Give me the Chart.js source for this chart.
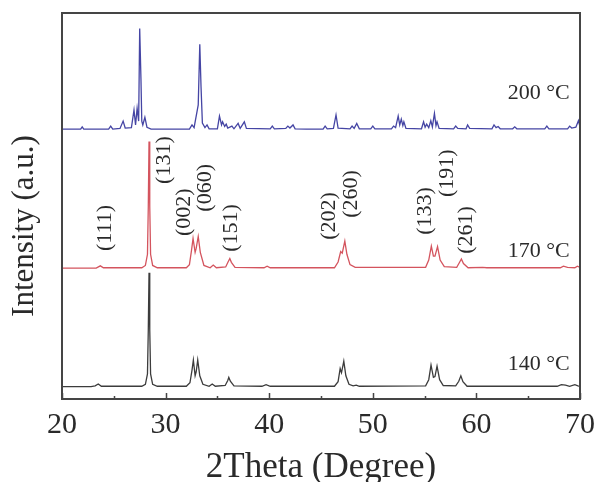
<!DOCTYPE html>
<html>
<head>
<meta charset="utf-8">
<script src="https://cdn.jsdelivr.net/npm/chart.js@4.4.1/dist/chart.umd.min.js"></script>
<style>
  html, body { margin: 0; padding: 0; background: #fff; }
</style>
</head>
<body>
<canvas id="xrd" width="616" height="482"></canvas>
<script>
// 2theta / intensity pairs (stacked, arbitrary units)
var theta140 = [20, 22.8, 23.2, 23.5, 23.8, 27.7, 28.05, 28.25, 28.33, 28.4, 28.47, 28.55, 28.75, 29.2,
  32.0, 32.35, 32.55, 32.68, 32.85, 32.95, 33.1, 33.3, 33.6, 34.2, 34.5, 34.8, 35.75, 36.0, 36.1, 36.25, 36.6,
  39.3, 39.7, 40.1, 46.3, 46.65, 46.85, 46.98, 47.2, 47.4, 47.7, 48.1, 48.4, 48.7,
  55.1, 55.4, 55.62, 55.85, 56.0, 56.2, 56.45, 56.8, 58.0, 58.3, 58.5, 58.7, 59.1,
  67.8, 68.2, 68.6, 69.0, 69.5, 69.8, 70];
var int140 = [3.2, 3.2, 3.4, 3.9, 3.3, 3.3, 3.8, 6.5, 18, 32.7, 18, 6.5, 3.8, 3.3,
  3.3, 4.2, 7.5, 10.1, 6.0, 7.0, 10.1, 6.0, 3.8, 3.3, 3.9, 3.3, 3.5, 4.8, 5.6, 4.6, 3.4,
  3.3, 3.7, 3.3, 3.3, 4.5, 7.9, 6.8, 9.8, 6.0, 3.8, 3.4, 3.6, 3.3,
  3.4, 5.0, 8.8, 5.6, 5.8, 8.5, 5.0, 3.5, 3.4, 4.6, 6.0, 4.5, 3.3,
  3.3, 3.7, 3.6, 3.3, 3.7, 3.4, 3.3];

var theta170 = [20, 23.3, 23.7, 24.0, 27.7, 28.05, 28.25, 28.33, 28.4, 28.47, 28.55, 28.75, 29.2,
  32.0, 32.3, 32.5, 32.65, 32.85, 32.95, 33.15, 33.35, 33.7, 34.3, 34.6, 34.9, 35.8, 36.05, 36.2, 36.35, 36.7,
  39.5, 39.8, 40.1, 46.3, 46.65, 46.9, 47.05, 47.3, 47.5, 47.8, 48.3,
  55.1, 55.4, 55.65, 55.85, 56.0, 56.25, 56.5, 56.9, 58.1, 58.35, 58.55, 58.75, 59.2,
  60.6, 61.0, 68.1, 68.4, 68.8, 69.5, 69.75, 70];
var int170 = [33.9, 33.9, 34.5, 34.0, 34.0, 34.6, 37.5, 50, 66.7, 50, 37.5, 34.6, 34.0,
  34.0, 34.8, 38.5, 41.6, 38.0, 39.0, 42.1, 38.0, 34.6, 34.0, 34.7, 34.0, 34.2, 35.6, 36.4, 35.4, 34.1,
  34.0, 34.4, 34.0, 34.0, 35.5, 38.2, 37.8, 40.9, 37.5, 34.8, 34.1,
  34.1, 36.0, 39.6, 37.0, 37.0, 39.5, 36.0, 34.3, 34.1, 35.3, 36.3, 35.1, 34.0,
  34.1, 34.0, 34.0, 34.4, 34.1, 34.0, 34.4, 34.1];

var theta200 = [20, 21.8, 21.95, 22.1, 24.5, 24.7, 24.9, 25.6, 25.9, 26.1, 26.7, 26.95, 27.1, 27.25, 27.4,
  27.5, 27.62, 27.7, 27.8, 28.0, 28.2, 28.6, 32.3, 32.55, 32.75, 33.15, 33.3, 33.42, 33.55, 33.8, 34.0, 34.2,
  35.0, 35.2, 35.4, 35.5, 35.7, 35.85, 36.0, 36.4, 36.6, 37.0, 37.2, 37.6, 37.8,
  40.1, 40.3, 40.5, 41.6, 41.8, 42.0, 42.3, 42.5, 43.6, 45.2, 45.4, 45.6, 46.2, 46.45, 46.65,
  47.8, 48.0, 48.2, 48.45, 48.7, 49.8, 50.0, 50.2, 51.8, 52.0, 52.2, 52.45, 52.6, 52.75, 52.9, 53.0, 53.2,
  54.7, 54.9, 55.05, 55.2, 55.4, 55.6, 55.75, 55.95, 56.1, 56.2, 56.4, 57.8, 58.0, 58.2,
  59.0, 59.15, 59.35, 61.5, 61.7, 61.9, 62.1, 62.3, 63.5, 63.7, 63.9, 66.6, 66.8, 67.0,
  68.8, 69.0, 69.2, 69.6, 69.85, 70];
var int200 = [69.9, 69.9, 70.5, 69.9, 69.9, 70.7, 69.9, 70.1, 72.0, 70.2, 70.3, 74.9, 71.0, 75.3, 72.0,
  96.0, 83.1, 72.0, 71.0, 73.0, 70.4, 69.9, 69.9, 71.0, 70.3, 76.2, 91.9, 80.9, 71.5, 70.3, 71.0, 70.0,
  70.0, 73.3, 71.0, 71.8, 70.6, 71.2, 70.2, 70.7, 70.0, 71.4, 70.1, 71.8, 70.1,
  70.0, 70.7, 70.0, 70.1, 70.7, 70.2, 71.0, 70.0, 69.9, 69.9, 70.7, 70.0, 70.1, 73.6, 70.2,
  70.0, 70.7, 70.1, 71.4, 70.0, 70.0, 70.7, 70.0, 70.0, 70.7, 70.3, 73.3, 71.0, 72.5, 70.8, 71.8, 70.1,
  70.0, 71.8, 70.4, 71.2, 70.3, 72.1, 70.5, 74.0, 70.8, 71.8, 70.1, 70.0, 70.7, 70.1,
  70.0, 71.0, 70.1, 70.0, 71.0, 70.3, 70.6, 70.0, 70.0, 70.5, 70.0, 70.0, 70.7, 70.0,
  70.0, 70.7, 70.2, 70.4, 72.1, 70.5];

// sample labels (right aligned at 2theta = 69)
var tempNames = ['200 °C', '170 °C', '140 °C'];
var tempY = [77.7, 36.8, 7.5];

// Miller indices over the 170 °C pattern (centre of the rotated text)
var hklNames = ['(111)', '(131)', '(002)', '(060)', '(151)', '(202)', '(260)', '(133)', '(191)', '(261)'];
var hklX = [24.15, 29.85, 31.8, 33.8, 36.3, 45.8, 47.9, 55.1, 57.2, 59.0];
var hklY = [44.3, 61.9, 48.4, 54.7, 44.3, 47.4, 53.1, 48.7, 58.5, 43.8];

var xTicks = [20, 30, 40, 50, 60, 70];

function toPoints(xs, ys) {
  var pts = [];
  for (var i = 0; i < xs.length; i++) pts.push({ x: xs[i], y: ys[i] });
  return pts;
}

var serif = '"Liberation Serif", "Times New Roman", serif';

// frame, inward ticks, text labels
var decorations = {
  id: 'decorations',
  afterDraw: function (chart) {
    var ctx = chart.ctx, a = chart.chartArea;
    var x = chart.scales.x, y = chart.scales.y;
    ctx.save();
    ctx.strokeStyle = '#454545';
    ctx.lineWidth = 2;
    ctx.strokeRect(a.left, a.top, a.right - a.left, a.bottom - a.top);

    ctx.lineWidth = 1.5;
    ctx.beginPath();
    x.ticks.forEach(function (t) {
      var px = Math.round(x.getPixelForValue(t.value)) + 0.5;
      var len = xTicks.indexOf(t.value) >= 0 ? 6 : 3;
      ctx.moveTo(px, a.bottom);
      ctx.lineTo(px, a.bottom - len);
    });
    ctx.stroke();

    ctx.fillStyle = '#2a2a2a';
    ctx.font = '22px ' + serif;
    ctx.textAlign = 'right';
    ctx.textBaseline = 'alphabetic';
    tempNames.forEach(function (s, i) {
      ctx.fillText(s, x.getPixelForValue(69), y.getPixelForValue(tempY[i]));
    });

    ctx.textAlign = 'center';
    ctx.textBaseline = 'middle';
    hklNames.forEach(function (s, i) {
      ctx.save();
      ctx.translate(x.getPixelForValue(hklX[i]), y.getPixelForValue(hklY[i]));
      ctx.rotate(-Math.PI / 2);
      ctx.fillText(s, 0, 0);
      ctx.restore();
    });

    // y axis title
    ctx.font = '31px ' + serif;
    ctx.save();
    ctx.translate(25, 226);
    ctx.rotate(-Math.PI / 2);
    ctx.fillText('Intensity (a.u.)', 0, 0);
    ctx.restore();
    ctx.restore();
  }
};

var ctx = document.getElementById('xrd').getContext('2d');
var chart = new Chart(ctx, {
  type: 'line',
  data: {
    datasets: [
      { label: '200 °C', data: toPoints(theta200, int200), borderColor: '#4545a4' },
      { label: '170 °C', data: toPoints(theta170, int170), borderColor: '#d4545e' },
      { label: '140 °C', data: toPoints(theta140, int140), borderColor: '#3c3c3c' }
    ]
  },
  options: {
    responsive: false,
    animation: false,
    layout: { padding: { top: 13, right: 36, left: 0, bottom: 0 } },
    elements: {
      point: { radius: 0 },
      line: { borderWidth: 1.3, tension: 0, fill: false }
    },
    plugins: { legend: { display: false }, tooltip: { enabled: false } },
    scales: {
      x: {
        type: 'linear',
        min: 20,
        max: 70,
        afterFit: function (s) { s.height = 83; },
        grid: { display: false, drawTicks: false },
        border: { display: false },
        ticks: {
          stepSize: 5,
          autoSkip: false,
          maxRotation: 0,
          padding: 8,
          color: '#2a2a2a',
          font: { family: serif, size: 30 },
          callback: function (v) { return xTicks.indexOf(v) >= 0 ? v : ''; }
        },
        title: {
          display: true,
          text: '2Theta (Degree)',
          color: '#2a2a2a',
          font: { family: serif, size: 35, lineHeight: 0.8 },
          padding: { top: 0, bottom: 0 }
        }
      },
      y: {
        min: 0,
        max: 100,
        afterFit: function (s) { s.width = 62; },
        grid: { display: false, drawTicks: false },
        border: { display: false },
        ticks: { display: false }
      }
    }
  },
  plugins: [decorations]
});
</script>
</body>
</html>
